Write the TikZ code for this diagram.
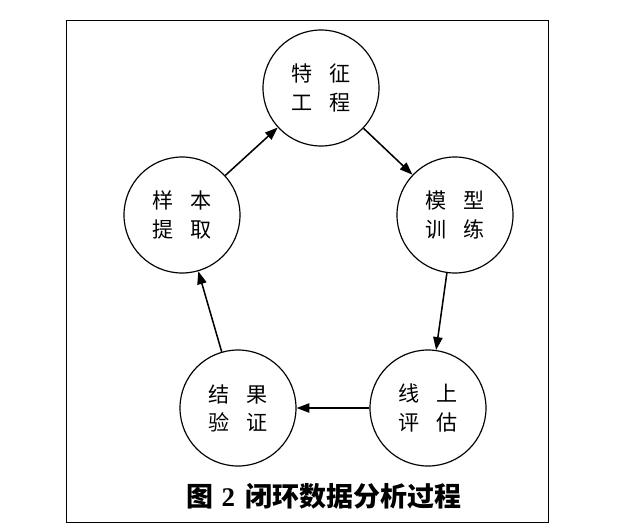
\documentclass[tikz,border=0pt]{standalone}
\usepackage{fontspec}
\setmainfont{Liberation Serif}
\newfontfamily\cjk{Noto Sans CJK SC}
\usetikzlibrary{arrows.meta}

\begin{document}
\begin{tikzpicture}[x=0.03cm, y=-0.03cm,
  every node/.style={font=\cjk\fontsize{18}{24}\selectfont},
  stufe/.style={circle, draw, line width=1pt, minimum size=3.48cm, inner sep=0pt, align=center},
  pfeil/.style={-{Triangle[length=11pt, width=8pt]}, line width=1.3pt}]
  % Rahmen
  \useasboundingbox (0,0) rectangle (644,527);
  \draw[line width=0.8pt] (66,20) rectangle (548,522);
  % Kreise (Pixelkoordinaten, y nach unten)
  \node[stufe] (merkmal) at (321,88)  {特\hspace{0.8em}征\\工\hspace{0.8em}程};
  \node[stufe] (modell)  at (455,215) {模\hspace{0.8em}型\\训\hspace{0.8em}练};
  \node[stufe] (online)  at (428,408) {线\hspace{0.8em}上\\评\hspace{0.8em}估};
  \node[stufe] (ergebnis) at (238,408) {结\hspace{0.8em}果\\验\hspace{0.8em}证};
  \node[stufe] (probe)   at (182,215) {样\hspace{0.8em}本\\提\hspace{0.8em}取};
  % Pfeile im Uhrzeigersinn
  \draw[pfeil] (probe) -- (merkmal);
  \draw[pfeil] (merkmal) -- (modell);
  \draw[pfeil] (modell) -- (online);
  \draw[pfeil] (online) -- (ergebnis);
  \draw[pfeil] (ergebnis) -- (probe);
  % Bildunterschrift
  \node[font=\cjk\bfseries\fontsize{23}{26}\selectfont] (titel) at (324,496)
    {图\hspace{0.3em}{\rmfamily\bfseries 2}\hspace{0.4em}闭环数据分析过程};
\end{tikzpicture}
\end{document}
